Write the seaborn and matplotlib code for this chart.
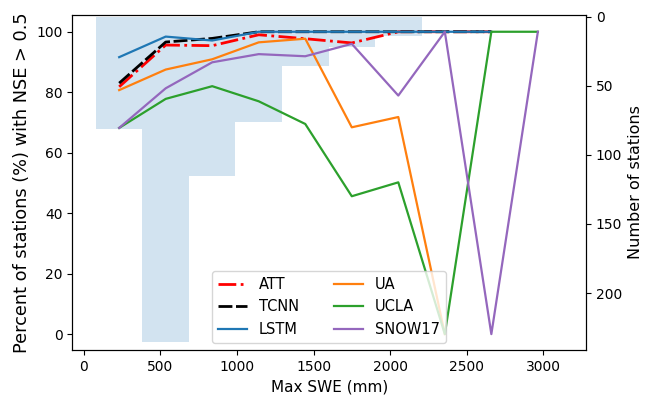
import numpy as np
import pandas as pd
import matplotlib
matplotlib.use("Agg")
import matplotlib.pyplot as plt
import seaborn as sns

# Bin centres (Max SWE, mm) and histogram edges
swe_centers = [230, 534, 838, 1142, 1446, 1750, 2054, 2358, 2662, 2966]
swe_edges = [78, 382, 686, 990, 1294, 1598, 1902, 2206, 2510, 2814, 3118]
station_counts = [81, 235, 115, 76, 36, 22, 14, 0, 0, 0]

nan = np.nan
att = [81.8, 95.6, 95.4, 99.0, 97.7, 96.3, 100, 100, 100, nan]
tcnn = [83.0, 96.6, 97.8, 100, 100, 100, 100, 100, 100, nan]
lstm = [91.6, 98.4, 97.1, 100, 100, 100, 100, 100, 100, nan]
ua = [80.7, 87.5, 90.9, 96.5, 97.7, 68.4, 71.8, 0, nan, nan]
ucla = [68.2, 77.8, 82.0, 77.0, 69.5, 45.6, 50.2, 0, 100, 100]
snow17 = [68.2, 81.3, 89.9, 92.6, 91.9, 96.0, 78.9, 100, 0, 100]

series = [
    ("ATT", att, "red", (0, (6.4, 1.6, 1, 1.6)), 2.0),
    ("TCNN", tcnn, "black", (0, (5, 1.3)), 2.0),
    ("LSTM", lstm, "tab:blue", "-", 1.6),
    ("UA", ua, "tab:orange", "-", 1.6),
    ("UCLA", ucla, "tab:green", "-", 1.6),
    ("SNOW17", snow17, "tab:purple", "-", 1.6),
]

fig, ax1 = plt.subplots(figsize=(6.46, 3.98), dpi=100)
fig.subplots_adjust(left=0.112, right=0.907, bottom=0.121, top=0.962)
ax2 = ax1.twinx()

sns.histplot(x=swe_centers, weights=station_counts, bins=swe_edges, ax=ax2,
             color="tab:blue", alpha=0.2, linewidth=0, edgecolor="none")
ax2.set_ylim(241, -1)
ax2.set_ylabel("Number of stations", fontsize=11.5)
ax2.tick_params(labelsize=10)

for name, vals, col, ls, lw in series:
    sns.lineplot(x=swe_centers, y=vals, ax=ax1, color=col, linestyle=ls,
                 linewidth=lw, label=name)

ax1.set_zorder(ax2.get_zorder() + 1)
ax1.patch.set_visible(False)
ax1.set_xlim(-76, 3280)
ax1.set_ylim(-5.2, 105.5)
ax1.set_xlabel("Max SWE (mm)", fontsize=11)
ax1.set_ylabel("Percent of stations (%) with NSE > 0.5", fontsize=12.8)
ax1.tick_params(labelsize=10)
ax1.legend(loc="lower center", ncol=2, fontsize=10.5, columnspacing=2.4)

fig.savefig("out.png", dpi=100)
